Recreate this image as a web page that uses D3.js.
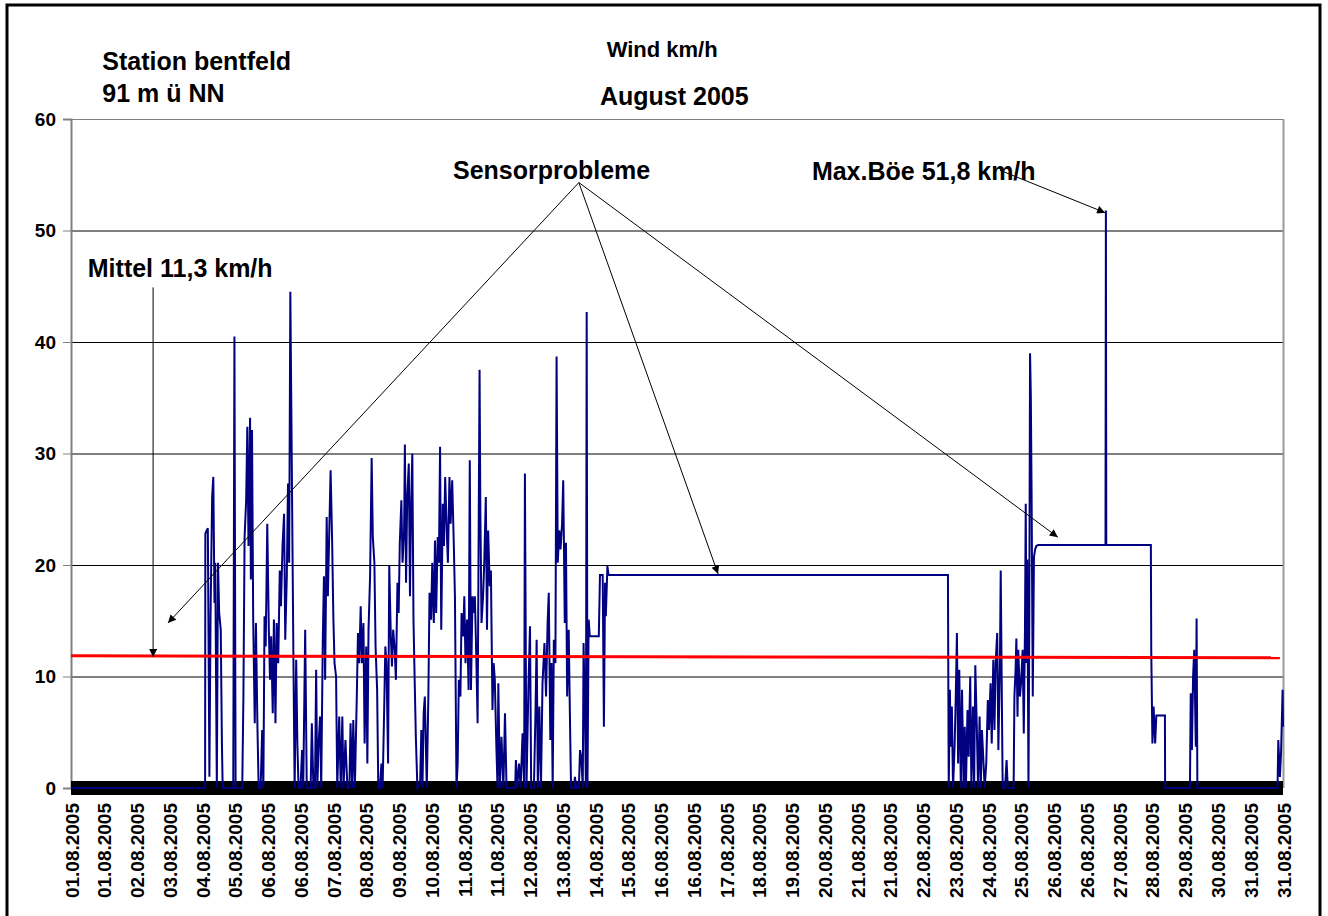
<!DOCTYPE html>
<html>
<head>
<meta charset="utf-8">
<script src="https://cdn.jsdelivr.net/npm/d3@7"></script>
<style>
  body { margin: 0; background: #fff; }
  svg { display: block; font-family: "Liberation Sans", Arial, sans-serif; }
</style>
</head>
<body>
<svg id="chart"></svg>
<script>
const width = 1328;
const height = 916;
const margin = { left: 71, right: 45, top: 119, bottom: 128 };

// tick labels of the category axis (38 labels over 31 days)
const tickLabels = [
  "01.08.2005", "01.08.2005", "02.08.2005", "03.08.2005", "04.08.2005", "05.08.2005",
  "06.08.2005", "06.08.2005", "07.08.2005", "08.08.2005", "09.08.2005", "10.08.2005",
  "11.08.2005", "11.08.2005", "12.08.2005", "13.08.2005", "14.08.2005", "15.08.2005",
  "16.08.2005", "16.08.2005", "17.08.2005", "18.08.2005", "19.08.2005", "20.08.2005",
  "21.08.2005", "21.08.2005", "22.08.2005", "23.08.2005", "24.08.2005", "25.08.2005",
  "26.08.2005", "26.08.2005", "27.08.2005", "28.08.2005", "29.08.2005", "30.08.2005",
  "31.08.2005", "31.08.2005"
];
const yTicks = [0, 10, 20, 30, 40, 50, 60];

// wind km/h, [day since 01.08. 00:00, value]
const windAug01to04 = [[0, 0], [3.42, 0]];
const windAug04to06 = [
  [3.43, 0], [3.436, 22.8], [3.47, 23.1], [3.5, 23.3], [3.54, 1], [3.57, 15.7], [3.61, 26.1],
  [3.64, 27.9], [3.67, 16.6], [3.69, 20.2], [3.73, 0], [3.76, 20.2], [3.79, 15.7], [3.83, 14.2],
  [3.86, 4], [3.88, 0], [4.15, 0], [4.18, 40.5], [4.21, 0], [4.38, 0], [4.41, 8.2], [4.44, 22.5],
  [4.48, 25.8], [4.51, 32.4], [4.54, 21.7], [4.58, 33.2], [4.6, 18.7], [4.63, 32.1], [4.66, 15.1],
  [4.7, 5.8], [4.73, 14.8], [4.77, 5.2], [4.8, 0], [4.85, 0], [4.89, 5.2], [4.92, 0], [4.95, 15.4],
  [4.98, 12.7], [5.02, 23.7], [5.06, 14.2], [5.09, 9.7], [5.12, 13.6], [5.16, 6.7], [5.19, 15.1],
  [5.23, 5.8], [5.26, 14.8], [5.3, 11.2], [5.34, 19.5], [5.37, 16.3], [5.41, 21.7], [5.45, 24.6],
  [5.48, 13.3], [5.52, 19], [5.55, 27.3], [5.58, 20.2], [5.61, 44.5], [5.64, 32.1], [5.66, 23.7],
  [5.69, 11.2], [5.72, 0], [5.76, 11.5], [5.79, 4], [5.82, 0], [5.87, 0], [5.91, 3.4], [5.94, 0],
  [5.99, 14.2], [6.03, 0]
];
const windAug07to09 = [
  [6.13, 0], [6.16, 5.8], [6.2, 0], [6.24, 0], [6.27, 10.6], [6.3, 0], [6.33, 3.7], [6.37, 6.4],
  [6.4, 0], [6.44, 13.3], [6.47, 19], [6.5, 9.7], [6.54, 24.3], [6.57, 17.2], [6.61, 23.7],
  [6.64, 28.5], [6.68, 22], [6.71, 15.4], [6.74, 11.2], [6.78, 10], [6.81, 0], [6.86, 6.4],
  [6.9, 0], [6.94, 6.4], [6.97, 0], [7.02, 4.3], [7.07, 0], [7.12, 0], [7.15, 5.8], [7.19, 0],
  [7.22, 6.1], [7.26, 0], [7.31, 8.2], [7.34, 13.9], [7.37, 11.2], [7.41, 16.3], [7.44, 11.2],
  [7.48, 14.8], [7.51, 4], [7.55, 12.7], [7.58, 2.2], [7.61, 14.2], [7.65, 19], [7.69, 29.6],
  [7.72, 22.5], [7.76, 20.2], [7.79, 12.7], [7.83, 8.8], [7.86, 0], [7.9, 0], [7.94, 2.2],
  [7.97, 0], [8.01, 7], [8.04, 12.7], [8.07, 11.2], [8.11, 2.2], [8.14, 19.9], [8.18, 13.6],
  [8.21, 10.9], [8.24, 14.2], [8.28, 12.4], [8.31, 9.7], [8.35, 18.4], [8.38, 15.7], [8.41, 22],
  [8.45, 25.8], [8.48, 20.2], [8.52, 23.1], [8.54, 30.8], [8.57, 18.4], [8.6, 26.1], [8.64, 29.1],
  [8.67, 17.2], [8.7, 25.5], [8.73, 30], [8.76, 15.1], [8.79, 9.7], [8.82, 4.6], [8.86, 0],
  [8.93, 0.4], [8.96, 5.2], [8.99, 0]
];
const windAug10to12 = [
  [9.02, 6.7], [9.05, 8.2], [9.1, 0], [9.14, 8.2], [9.17, 17.5], [9.21, 15.1], [9.24, 20.2],
  [9.28, 14.8], [9.31, 22.2], [9.34, 15.7], [9.38, 22.5], [9.41, 20.2], [9.44, 30.6], [9.47, 14.2],
  [9.51, 25.5], [9.54, 21.7], [9.57, 27.9], [9.61, 23.1], [9.64, 20.2], [9.68, 27.9], [9.71, 23.7],
  [9.75, 27.6], [9.79, 22], [9.82, 17.2], [9.86, 0], [9.89, 2.2], [9.92, 9.7], [9.96, 8.2],
  [9.99, 15.7], [10.03, 13.6], [10.06, 17.2], [10.09, 11.2], [10.13, 15.1], [10.17, 8.8],
  [10.2, 29.4], [10.23, 8.8], [10.27, 17.2], [10.3, 15.7], [10.33, 17.2], [10.37, 11.2],
  [10.4, 5.8], [10.45, 37.5], [10.47, 24.9], [10.5, 14.8], [10.54, 17.2], [10.57, 20.2],
  [10.61, 26.1], [10.64, 14.2], [10.67, 23.1], [10.71, 18.1], [10.74, 19.5], [10.78, 7],
  [10.81, 11.2], [10.84, 9.7], [10.88, 3.7], [10.91, 0], [10.93, 9.4], [10.97, 0], [11.01, 4.6],
  [11.06, 0], [11.1, 6.7], [11.14, 0], [11.36, 0], [11.38, 2.5], [11.41, 0], [11.46, 2.2],
  [11.5, 0], [11.55, 4.9], [11.59, 0], [11.61, 28.2], [11.65, 0], [11.7, 9.1], [11.74, 14.5],
  [11.77, 0], [11.84, 0], [11.88, 6.7], [11.91, 13.3], [11.94, 0], [11.98, 7.3], [12.02, 0]
];
const windAug13to14 = [
  [12.06, 9.4], [12.11, 13], [12.15, 8.2], [12.19, 14.8], [12.22, 17.5], [12.26, 4.3],
  [12.29, 11.2], [12.32, 0], [12.35, 13.3], [12.39, 11.2], [12.42, 38.7], [12.45, 20.2],
  [12.49, 23.1], [12.52, 21.4], [12.56, 23.7], [12.59, 27.6], [12.63, 14.8], [12.66, 22],
  [12.69, 8.2], [12.73, 14.2], [12.76, 6.7], [12.79, 0], [12.86, 0], [12.89, 1], [12.92, 0],
  [12.99, 0], [13.02, 3.4], [13.05, 2.8], [13.09, 0], [13.11, 13], [13.15, 5.5], [13.17, 0],
  [13.19, 42.7], [13.21, 0], [13.24, 15.1], [13.27, 13.6], [13.5, 13.6], [13.53, 19.1],
  [13.6, 19.1], [13.63, 5.5], [13.66, 18.4], [13.68, 15.4], [13.72, 19.9], [13.75, 19.1]
];
const windAug15to22 = [[22.43, 19.1]];
const windAug23to26 = [
  [22.45, 0], [22.48, 8.8], [22.5, 3.7], [22.53, 7.3], [22.56, 0], [22.6, 3.7], [22.63, 8.2],
  [22.66, 13.9], [22.69, 2.2], [22.72, 10.6], [22.76, 0], [22.79, 8.8], [22.83, 0], [22.86, 5.5],
  [22.89, 0], [22.93, 7], [22.96, 2.8], [23, 10], [23.03, 0], [23.07, 7.3], [23.1, 0], [23.13, 11],
  [23.17, 5.2], [23.2, 0], [23.24, 6.4], [23.27, 0], [23.3, 5.2], [23.34, 2.2], [23.37, 0],
  [23.41, 2.2], [23.45, 7.9], [23.48, 5.2], [23.52, 9.4], [23.55, 4], [23.59, 11.5], [23.62, 5.2],
  [23.65, 11.2], [23.69, 13.9], [23.72, 3.4], [23.76, 11.2], [23.78, 19.5], [23.81, 7.6],
  [23.83, 0], [23.89, 0], [23.93, 2.5], [23.96, 0], [24.11, 0], [24.13, 8.2], [24.16, 10.6],
  [24.18, 13.4], [24.21, 6.4], [24.23, 12.4], [24.27, 8.2], [24.3, 9.4], [24.34, 12.4],
  [24.37, 4.9], [24.4, 14.2], [24.42, 25.5], [24.44, 11.2], [24.46, 20.5], [24.49, 0],
  [24.51, 14.2], [24.53, 39], [24.55, 35.1], [24.57, 26.1], [24.6, 8.2], [24.63, 20.7],
  [24.66, 21.4], [24.69, 21.7], [24.74, 21.8], [26.46, 21.8], [26.47, 51.8], [26.48, 21.8]
];
const windAug27to31 = [
  [27.62, 21.8], [27.63, 12.4], [27.66, 4], [27.69, 7.3], [27.73, 4], [27.76, 6.5], [27.98, 6.5],
  [27.985, 0], [28.62, 0], [28.64, 8.5], [28.67, 3.4], [28.7, 10], [28.73, 12.4], [28.77, 3.7],
  [28.79, 15.2], [28.81, 0], [30.86, 0], [30.88, 4.3], [30.92, 1], [30.95, 3.1], [30.99, 8.8],
  [31, 5.5]
];
const meanLine = [[0, 11.85], [30.92, 11.68]];
const zeroBand = [[0, 0], [31, 0]];

const texts = [
  { text: "Station bentfeld", day: 0.8, value: 64.4, size: 25 },
  { text: "91 m ü NN", day: 0.8, value: 61.55, size: 25 },
  { text: "Wind km/h", day: 13.7, value: 65.6, size: 22 },
  { text: "August 2005", day: 13.53, value: 61.3, size: 25 },
  { text: "Sensorprobleme", day: 9.77, value: 54.65, size: 25 },
  { text: "Max.Böe 51,8 km/h", day: 18.95, value: 54.55, size: 25 },
  { text: "Mittel 11,3 km/h", day: 0.43, value: 45.86, size: 25 }
];
// arrows: [from day, from value, to day, to value]
const arrows = [
  [2.1, 44.9, 2.1, 11.75],
  [12.99, 54.3, 2.48, 14.8],
  [12.99, 54.3, 16.55, 19.2],
  [12.99, 54.3, 25.24, 22.5],
  [23.76, 55.4, 26.45, 51.6]
];

const svg = d3.select("#chart")
  .attr("width", width)
  .attr("height", height);

svg.append("rect")
  .attr("x", 7).attr("y", 5)
  .attr("width", 1313).attr("height", 930)
  .attr("fill", "#fff").attr("stroke", "#000").attr("stroke-width", 3);

const xScale = d3.scaleLinear()
  .domain([0, 31])
  .range([margin.left, width - margin.right]);

const yScale = d3.scaleLinear()
  .domain([0, 60])
  .range([height - margin.bottom, margin.top]);

// gridlines
svg.append("g")
  .selectAll("line")
  .data(yTicks)
  .enter()
  .append("line")
  .attr("x1", xScale(0))
  .attr("x2", xScale(31))
  .attr("y1", d => yScale(d) + 0.5)
  .attr("y2", d => yScale(d) + 0.5)
  .attr("stroke", d => d === 60 ? "#808080" : "#000")
  .attr("stroke-width", 1);

svg.append("line")
  .attr("x1", xScale(31) + 0.5).attr("x2", xScale(31) + 0.5)
  .attr("y1", yScale(60)).attr("y2", yScale(0))
  .attr("stroke", "#999").attr("stroke-width", 2);

const yAxis = d3.axisLeft(yScale).tickValues(yTicks).tickSize(8).tickPadding(7);
svg.append("g")
  .attr("transform", `translate(${margin.left}, 0)`)
  .call(yAxis)
  .call(g => g.select(".domain").attr("stroke", "#808080").attr("stroke-width", 2))
  .call(g => g.selectAll(".tick line").attr("stroke", "#808080"))
  .call(g => g.selectAll("text")
    .attr("font-size", 19).attr("font-weight", "bold").attr("fill", "#000")
    .attr("font-family", "'Liberation Sans', Arial, sans-serif"));

// black band along zero
const line = d3.line()
  .x(d => xScale(d[0]))
  .y(d => yScale(d[1]));

svg.append("path")
  .datum(zeroBand)
  .attr("d", line)
  .attr("fill", "none")
  .attr("stroke", "#000")
  .attr("stroke-width", 14);

const wind = [].concat(windAug01to04, windAug04to06, windAug07to09, windAug10to12,
  windAug13to14, windAug15to22, windAug23to26, windAug27to31);

svg.append("path")
  .datum(wind)
  .attr("d", line)
  .attr("fill", "none")
  .attr("stroke", "#000080")
  .attr("stroke-width", 2)
  .attr("stroke-linejoin", "miter");

svg.append("path")
  .datum(meanLine)
  .attr("d", line)
  .attr("fill", "none")
  .attr("stroke", "#ff0000")
  .attr("stroke-width", 3);

const xAxis = d3.axisBottom(xScale)
  .tickValues(tickLabels.map((d, i) => i * 31 / 37))
  .tickFormat((d, i) => tickLabels[i])
  .tickSize(0);

svg.append("g")
  .attr("transform", `translate(0, ${yScale(0) + 8})`)
  .call(xAxis)
  .call(g => g.select(".domain").remove())
  .call(g => g.selectAll("text")
    .attr("transform", "rotate(-90)")
    .attr("text-anchor", "end")
    .attr("x", -7)
    .attr("y", 7)
    .attr("dy", 0)
    .attr("font-size", 19).attr("font-weight", "bold").attr("fill", "#000")
    .attr("font-family", "'Liberation Sans', Arial, sans-serif"));

// annotations
svg.append("defs").append("marker")
  .attr("id", "arrow")
  .attr("viewBox", "0 0 10 10")
  .attr("refX", 10).attr("refY", 5)
  .attr("markerWidth", 11).attr("markerHeight", 8)
  .attr("markerUnits", "userSpaceOnUse")
  .attr("orient", "auto")
  .append("path")
  .attr("d", "M0,0L10,5L0,10Z")
  .attr("fill", "#000");

svg.selectAll(".arrow")
  .data(arrows)
  .enter()
  .append("line")
  .attr("class", "arrow")
  .attr("x1", d => xScale(d[0]))
  .attr("y1", d => yScale(d[1]))
  .attr("x2", d => xScale(d[2]))
  .attr("y2", d => yScale(d[3]))
  .attr("stroke", "#000")
  .attr("stroke-width", 1)
  .attr("marker-end", "url(#arrow)");

svg.selectAll(".note")
  .data(texts)
  .enter()
  .append("text")
  .attr("class", "note")
  .attr("x", d => xScale(d.day))
  .attr("y", d => yScale(d.value))
  .attr("font-size", d => d.size)
  .attr("font-weight", "bold")
  .text(d => d.text);
</script>
</body>
</html>
